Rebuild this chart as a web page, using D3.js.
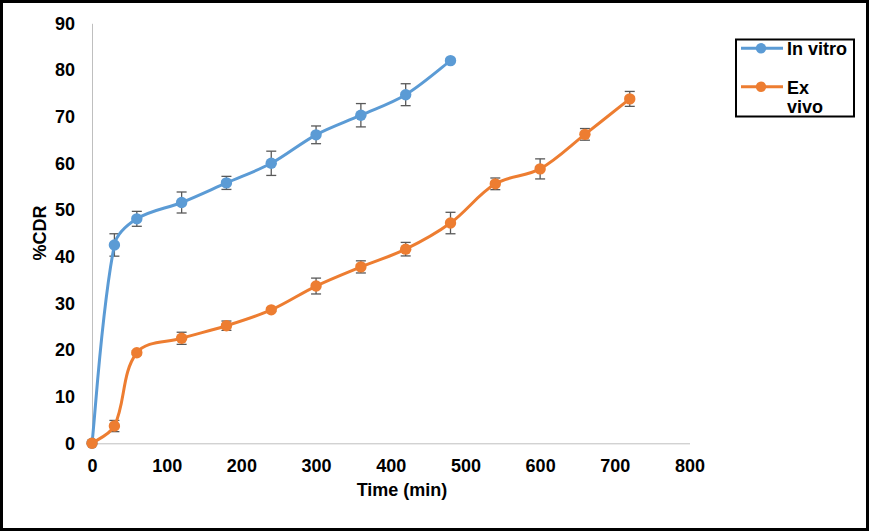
<!DOCTYPE html>
<html>
<head>
<meta charset="utf-8">
<script src="https://cdn.jsdelivr.net/npm/d3@7"></script>
<style>
  body { margin: 0; background: #fff; }
  svg { display: block; font-family: "Liberation Sans", Arial, sans-serif; }
</style>
</head>
<body>
<svg id="svg" width="869" height="531"></svg>
<script>
// sampling times (min)
var vitroTime = [0, 30, 60, 120, 180, 240, 300, 360, 420, 480];
var vitroCDR  = [0, 42.5, 48.1, 51.6, 55.8, 60.0, 66.1, 70.3, 74.7, 82.0];
var vitroErr  = [0, 2.4, 1.6, 2.25, 1.4, 2.6, 1.9, 2.5, 2.35, 0];

var vivoTime = [0, 30, 60, 120, 180, 240, 300, 360, 420, 480, 540, 600, 660, 720];
var vivoCDR  = [0, 3.7, 19.4, 22.5, 25.2, 28.6, 33.7, 37.8, 41.6, 47.2, 55.6, 58.8, 66.2, 73.8];
var vivoErr  = [0, 1.2, 0.4, 1.3, 1.0, 0.3, 1.7, 1.3, 1.45, 2.3, 1.25, 2.15, 1.25, 1.6];

var xTicks = [0, 100, 200, 300, 400, 500, 600, 700, 800];
var yTicks = [0, 10, 20, 30, 40, 50, 60, 70, 80, 90];

var series = [
  { name: "In vitro", time: vitroTime, val: vitroCDR, err: vitroErr, color: "#5B9BD5" },
  { name: "Ex vivo",  time: vivoTime,  val: vivoCDR,  err: vivoErr,  color: "#ED7D31" }
];

var svg = d3.select("#svg");

// outer frame
svg.append("rect")
  .attr("x", 1.5).attr("y", 1.5)
  .attr("width", 866).attr("height", 528)
  .attr("fill", "#fff")
  .attr("stroke", "#000")
  .attr("stroke-width", 3);

var x = d3.scaleLinear().domain([0, 800]).range([92, 689.5]);
var y = d3.scaleLinear().domain([0, 90]).range([443.3, 23.3]);

// axes
var xAxis = svg.append("g")
  .attr("transform", "translate(0," + y(0) + ")")
  .call(d3.axisBottom(x).tickValues(xTicks).tickSize(0).tickPadding(16));
var yAxis = svg.append("g")
  .attr("transform", "translate(" + x(0) + ",0)")
  .call(d3.axisLeft(y).tickValues(yTicks).tickSize(0).tickPadding(17));

[xAxis, yAxis].forEach(function(ax) {
  ax.select(".domain").attr("stroke", "#BFBFBF").attr("stroke-width", 1);
  ax.selectAll("text")
    .attr("font-family", "Liberation Sans, Arial, sans-serif")
    .attr("font-size", 18)
    .attr("font-weight", "bold")
    .attr("fill", "#000");
});

// axis titles
svg.append("text")
  .attr("x", 402).attr("y", 496)
  .attr("text-anchor", "middle")
  .attr("font-size", 18).attr("font-weight", "bold")
  .text("Time (min)");

svg.append("text")
  .attr("transform", "translate(46,233) rotate(-90)")
  .attr("text-anchor", "middle")
  .attr("font-size", 18).attr("font-weight", "bold")
  .text("%CDR");

// smooth line like the spreadsheet's: tangent along neighbours,
// control arms proportional to the segment's own length
function smooth(p) {
  var path = d3.path();
  function unit(a, b) {
    var dx = b[0] - a[0], dy = b[1] - a[1], l = Math.hypot(dx, dy) || 1;
    return [dx / l, dy / l];
  }
  path.moveTo(p[0][0], p[0][1]);
  for (var i = 0; i < p.length - 1; i++) {
    var a = p[i], b = p[i + 1];
    var d = Math.hypot(b[0] - a[0], b[1] - a[1]);
    var ua = i == 0 ? unit(a, b) : unit(p[i - 1], b);
    var ub = i == p.length - 2 ? unit(a, b) : unit(a, p[i + 2]);
    var ka = i == 0 ? d / 6 : d / 3;
    var kb = i == p.length - 2 ? d / 6 : d / 3;
    path.bezierCurveTo(a[0] + ua[0] * ka, a[1] + ua[1] * ka,
                       b[0] - ub[0] * kb, b[1] - ub[1] * kb,
                       b[0], b[1]);
  }
  return path.toString();
}

series.forEach(function(s) {
  var pts = s.time.map(function(t, i) { return [t, s.val[i], s.err[i]]; });
  var g = svg.append("g");

  // error bars
  var eb = g.selectAll("g.eb")
    .data(pts.filter(function(d) { return d[2] > 0; }))
    .enter().append("g")
    .attr("stroke", "#595959")
    .attr("stroke-width", 1.3);
  eb.append("line")
    .attr("x1", function(d) { return x(d[0]); })
    .attr("x2", function(d) { return x(d[0]); })
    .attr("y1", function(d) { return y(d[1] + d[2]); })
    .attr("y2", function(d) { return y(d[1] - d[2]); });
  eb.append("line")
    .attr("x1", function(d) { return x(d[0]) - 5; })
    .attr("x2", function(d) { return x(d[0]) + 5; })
    .attr("y1", function(d) { return y(d[1] + d[2]); })
    .attr("y2", function(d) { return y(d[1] + d[2]); });
  eb.append("line")
    .attr("x1", function(d) { return x(d[0]) - 5; })
    .attr("x2", function(d) { return x(d[0]) + 5; })
    .attr("y1", function(d) { return y(d[1] - d[2]); })
    .attr("y2", function(d) { return y(d[1] - d[2]); });

  g.append("path")
    .attr("d", smooth(pts.map(function(d) { return [x(d[0]), y(d[1])]; })))
    .attr("fill", "none")
    .attr("stroke", s.color)
    .attr("stroke-width", 3)
    .attr("stroke-linejoin", "round");

  g.selectAll("circle")
    .data(pts)
    .enter().append("circle")
    .attr("cx", function(d) { return x(d[0]); })
    .attr("cy", function(d) { return y(d[1]); })
    .attr("r", 5.7)
    .attr("fill", s.color);
});

// legend
var lg = svg.append("g");
lg.append("rect")
  .attr("x", 736).attr("y", 39.5)
  .attr("width", 118).attr("height", 77)
  .attr("fill", "#fff")
  .attr("stroke", "#000")
  .attr("stroke-width", 2);

var legY = [48.3, 86.7];
series.forEach(function(s, i) {
  lg.append("line")
    .attr("x1", 741).attr("x2", 783)
    .attr("y1", legY[i]).attr("y2", legY[i])
    .attr("stroke", s.color).attr("stroke-width", 3);
  lg.append("circle")
    .attr("cx", 761).attr("cy", legY[i]).attr("r", 5.2)
    .attr("fill", s.color);
});
lg.append("text")
  .attr("x", 787).attr("y", 54.5)
  .attr("font-size", 18).attr("font-weight", "bold")
  .text("In vitro");
var t2 = lg.append("text")
  .attr("x", 787).attr("y", 93.5)
  .attr("font-size", 18).attr("font-weight", "bold");
t2.append("tspan").attr("x", 787).text("Ex");
t2.append("tspan").attr("x", 787).attr("dy", 19).text("vivo");
</script>
</body>
</html>
